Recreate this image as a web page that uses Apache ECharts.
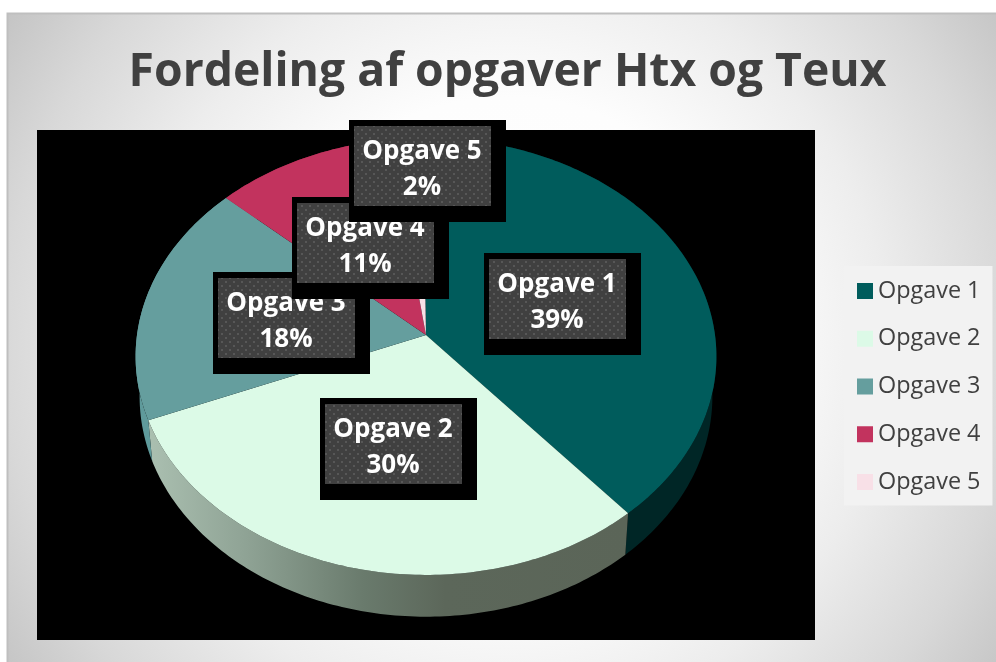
<!DOCTYPE html>
<html>
<head>
<meta charset="utf-8">
<title>Fordeling af opgaver Htx og Teux</title>
<script src="https://cdn.jsdelivr.net/npm/echarts@6/dist/echarts.min.js"></script>
<style>
    html, body { margin: 0; padding: 0; background: #fff; }
    #chart { width: 996px; height: 662px; }
</style>
</head>
<body>
<div id="chart"></div>
<script>
// data
const categories = ['Opgave 1', 'Opgave 2', 'Opgave 3', 'Opgave 4', 'Opgave 5'];
const percentages = [39, 30, 18, 11, 2];

// colours
const sliceColors = ['#005c5c', '#dcfae7', '#659e9e', '#c2335e', '#f8e0e7'];
const FONT = '"Open Sans", "Noto Sans", sans-serif';

// centre of each data label box, label layout only
const labelCentres = [[557, 299], [393, 444], [286, 318], [365, 243], [422, 166]];

// tilted pie: perspective projection of the unit circle
const TILT = 0.098;
const ROTATION = -0.2; // in percent of the full circle
const topFace = { cx: 426, cy: 335, rx: 289, ry: 216.4 };
const bottomFace = { cx: 426, cy: 375, rx: 285, ry: 218 };

function project(face, percent) {
    const angle = (percent + ROTATION) / 100 * Math.PI * 2;
    const u = Math.sin(angle);
    const v = -Math.cos(angle);
    const s = 1 / (1 - TILT * v);
    return [face.cx + face.rx * u * s, face.cy + face.ry * v * s];
}

function rim(face, from, to) {
    const pts = [];
    const steps = Math.max(2, Math.ceil((to - from) * 4));
    for (let i = 0; i <= steps; i++) {
        pts.push(project(face, from + (to - from) * i / steps));
    }
    return pts;
}

// side wall colours, running left to right across the picture
function wallFill(index) {
    const stops = {
        0: [[0, '#002b2b'], [1, '#002626']],
        1: [[0, '#aabfb0'], [0.2, '#8fa395'], [0.45, '#697a6c'], [0.62, '#5c675a'], [1, '#5b6558']],
        2: [[0, '#5f9a9b'], [1, '#4f8a8a']],
        3: [[0, '#8a2443'], [1, '#8a2443']],
        4: [[0, '#b0a0a5'], [1, '#b0a0a5']]
    }[index];
    return {
        type: 'linear', x: 150, y: 0, x2: 627, y2: 0, global: true,
        colorStops: stops.map(s => ({ offset: s[0], color: s[1] }))
    };
}

// dotted fill of the label boxes
function makeDots() {
    const c = document.createElement('canvas');
    c.width = 8;
    c.height = 8;
    const ctx = c.getContext('2d');
    ctx.fillStyle = '#404040';
    ctx.fillRect(0, 0, 8, 8);
    ctx.fillStyle = '#575757';
    ctx.fillRect(1, 1, 2, 2);
    ctx.fillRect(5, 5, 2, 2);
    return c;
}
const dots = { image: makeDots(), repeat: 'repeat' };

function renderSlice(params, api) {
    const index = params.seriesIndex;
    const from = api.value(0);
    const to = api.value(1);
    const top = rim(topFace, from, to);
    const bottom = rim(bottomFace, from, to).reverse();
    const centre = labelCentres[index];
    return {
        type: 'group',
        children: [
            {
                type: 'polygon',
                z2: 1,
                shape: { points: top.concat(bottom) },
                style: { fill: wallFill(index) }
            },
            {
                type: 'polygon',
                z2: 5,
                shape: { points: [[topFace.cx, topFace.cy]].concat(top) },
                style: { fill: sliceColors[index] }
            },
            {
                type: 'rect',
                z2: 10 + index,
                shape: { x: centre[0] - 73, y: centre[1] - 46, width: 157, height: 102 },
                style: { fill: '#000' }
            },
            {
                type: 'rect',
                z2: 10 + index,
                shape: { x: centre[0] - 68, y: centre[1] - 40, width: 137, height: 80 },
                style: { fill: dots }
            },
            {
                type: 'text',
                z2: 10 + index,
                x: centre[0],
                y: centre[1] + 3.5,
                style: {
                    text: categories[index] + '\n' + percentages[index] + '%',
                    fill: '#fff',
                    font: 'bold 26px ' + FONT,
                    lineHeight: 36,
                    align: 'center',
                    verticalAlign: 'middle'
                }
            }
        ]
    };
}

// one custom series per task, each holds its start and end in percent
let running = 0;
const series = categories.map(function(name, i) {
    const start = running;
    running += percentages[i];
    return {
        name: name,
        type: 'custom',
        coordinateSystem: 'none',
        renderItem: renderSlice,
        itemStyle: { color: sliceColors[i] },
        data: [[start, running, percentages[i]]]
    };
});

const chart = echarts.init(document.getElementById('chart'));

chart.setOption({
    animation: false,
    title: {
        text: 'Fordeling af opgaver Htx og Teux',
        left: 502.5,
        top: 45,
        textAlign: 'center',
        textStyle: { fontFamily: FONT, fontSize: 46.3, fontWeight: 'bold', color: '#404040' }
    },
    legend: {
        orient: 'vertical',
        left: 844,
        top: 266,
        padding: [13.5, 12, 12, 13],
        backgroundColor: '#f2f2f2',
        itemWidth: 16,
        itemHeight: 16,
        itemGap: 24.75,
        icon: 'rect',
        selectedMode: false,
        data: categories,
        textStyle: { fontFamily: FONT, fontSize: 23.4, color: '#404040' }
    },
    graphic: [
        {
            type: 'rect',
            z: -2,
            shape: { x: 7.5, y: 13.5, width: 1000, height: 660 },
            style: {
                stroke: '#bfbfbf',
                lineWidth: 2,
                fill: {
                    type: 'radial', x: 0.5, y: 0.5, r: 0.908,
                    colorStops: [
                        { offset: 0, color: '#ffffff' },
                        { offset: 0.41, color: '#fdfdfd' },
                        { offset: 0.63, color: '#ededed' },
                        { offset: 0.84, color: '#d8d8d8' },
                        { offset: 1, color: '#c4c4c4' }
                    ]
                }
            }
        },
        {
            type: 'rect',
            z: -1,
            shape: { x: 37, y: 130, width: 778, height: 510 },
            style: { fill: '#000' }
        }
    ],
    series: series
});

window.addEventListener('resize', () => chart.resize());
</script>
</body>
</html>
